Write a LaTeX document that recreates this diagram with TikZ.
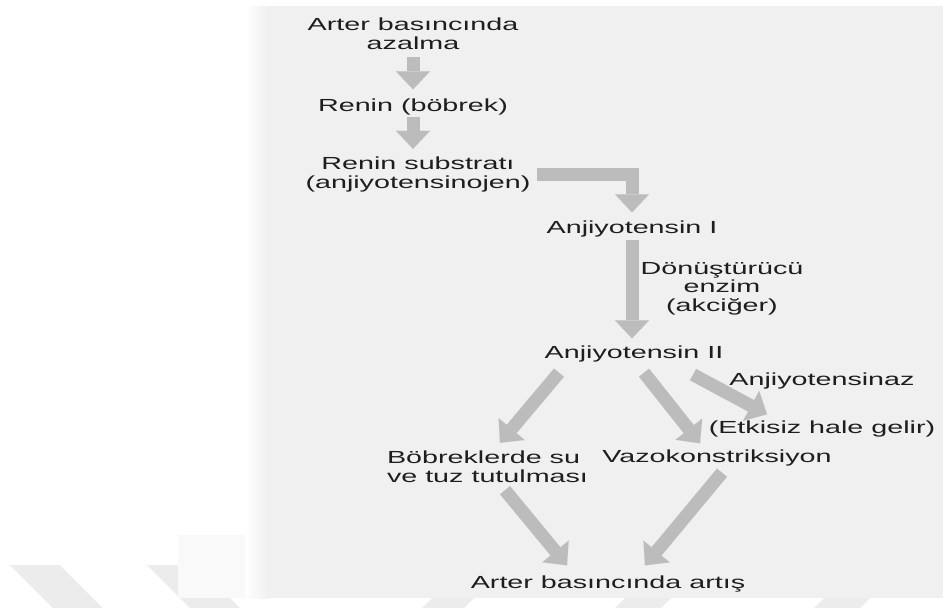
\documentclass[tikz,border=0pt]{standalone}
\usepackage{fontspec}
\setmainfont{Liberation Sans}[FakeStretch=1.64]
\usetikzlibrary{calc,positioning,arrows.meta}

\definecolor{bggray}{RGB}{240,240,240}
\definecolor{bandgray}{RGB}{249,249,249}
\definecolor{stripegray}{RGB}{236,236,236}
\definecolor{arrowgray}{RGB}{188,188,188}
\definecolor{textgray}{RGB}{30,30,30}

\tikzset{
	lbl/.style={anchor=base, inner sep=0pt, outer sep=0pt, text=textgray, align=center,
		font=\fontsize{17.5}{18.5}\selectfont},
	bigarrow/.style={draw=arrowgray, line width=13pt,
		-{Triangle[length=18pt,width=34pt,line width=0.01pt]}},
}

\begin{document}
\begin{tikzpicture}[x=1pt, y=-1pt]
	\useasboundingbox (0,0) rectangle (943,608);
	
	% watermark and backdrop
	\fill[stripegray] (10,565) -- (60,565) -- (103,608) -- (53,608) -- cycle;
	\fill[stripegray] (147,565) -- (197,565) -- (240,608) -- (190,608) -- cycle;
	\fill[stripegray] (432,598) -- (474,598) -- (464,608) -- (422,608) -- cycle;
	\fill[stripegray] (625,598) -- (671,598) -- (661,608) -- (615,608) -- cycle;
	\fill[stripegray] (824,598) -- (870,598) -- (860,608) -- (814,608) -- cycle;
	\fill[bandgray] (178,535) rectangle (943,598);
	\fill[bggray] (268,6) rectangle (943,598);
	\shade[left color=white, right color=bggray] (245,6) rectangle (268,598);
	
	% multi-line labels sit on their last line
	\node[lbl] (azalma) at (413,49) {Arter basıncında\\azalma};
	\node[lbl] (renin) at (413,111) {Renin (böbrek)};
	\node[lbl] (substrat) at (418,188) {Renin substratı\\(anjiyotensinojen)};
	\node[lbl] (anj1) at (632,233) {Anjiyotensin I};
	\node[lbl] (enzim) at (722,311) {Dönüştürücü\\enzim\\(akciğer)};
	\node[lbl] (anj2) at (634,358) {Anjiyotensin II};
	\node[lbl] (anjaz) at (822,385) {Anjiyotensinaz};
	\node[lbl] (etkisiz) at (822,433) {(Etkisiz hale gelir)};
	\node[lbl, anchor=base west, align=left] (bobrek) at (387,482) {Böbreklerde su\\ve tuz tutulması};
	\node[lbl] (vazo) at (717,462) {Vazokonstriksiyon};
	\node[lbl] (artis) at (608,588) {Arter basıncında artış};
	
	\draw[bigarrow, shorten <=8pt, shorten >=9pt] (azalma.south) -- (azalma.south |- renin.north);
	\draw[bigarrow, shorten <=2pt, shorten >=8pt] (renin.south) -- (renin.south |- substrat.north);
	\draw[bigarrow, shorten <=7pt, shorten >=8pt] (substrat.east) -| (anj1.north);
	\draw[bigarrow, shorten <=3pt, shorten >=7pt] (anj1.south) -- (anj1.south |- anj2.north);
	\draw[bigarrow] ($(anj2.south)+(-75,11)$) -- ($(bobrek.north west)+(113,-8)$);
	\draw[bigarrow] ($(anj2.south)+(10,11)$) -- ($(vazo.north)+(-17,-6)$);
	\draw[bigarrow] ($(anj2.south)+(59,13)$) -- ($(etkisiz.north)+(-55,-6)$);
	\draw[bigarrow] ($(bobrek.south west)+(118,8)$) -- ($(artis.north)+(-41,-10)$);
	\draw[bigarrow] ($(vazo.south)+(5,7)$) -- ($(artis.north)+(37,-10)$);
	
\end{tikzpicture}
\end{document}
